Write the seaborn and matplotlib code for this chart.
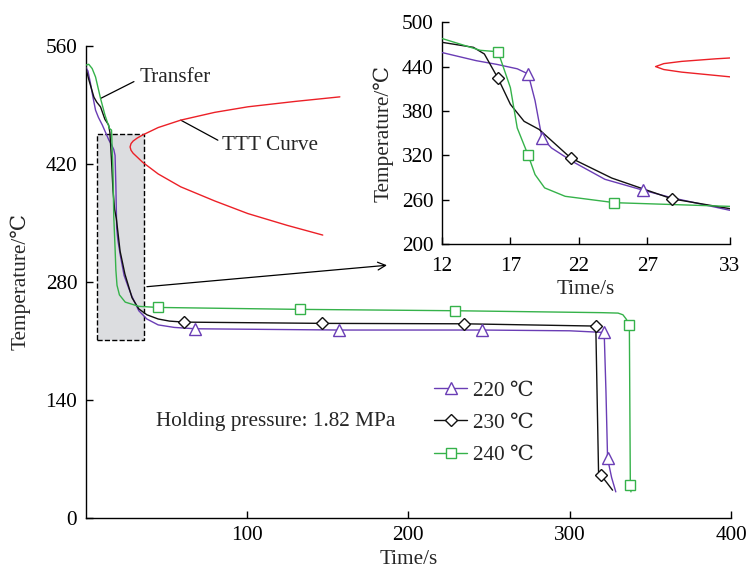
import numpy as np
import pandas as pd
import matplotlib
matplotlib.use("Agg")
import matplotlib.pyplot as plt
import seaborn as sns
from matplotlib.patches import Rectangle
from matplotlib.lines import Line2D

# --- DATA ---
t_220 = [0, 1.5, 3.1, 4.5, 6.2, 8, 10.4, 12, 14.5, 16, 17.5, 18.3, 18.8, 19.3, 20, 21.5, 23.9,
         26.7, 28.8, 33, 38, 45, 55, 68, 157, 245.7, 300, 321.4, 322.5, 323.5, 326, 328.6]
T_220 = [535, 530, 515, 500, 483.6, 475, 466, 459, 448, 443, 437, 430, 394, 344, 330, 312, 287.6,
         272.8, 262.6, 245.8, 236, 229, 226, 224.4, 222.9, 222.9, 222, 220, 150, 70.7, 48, 31]

t_230 = [0, 2, 5.2, 7, 9.3, 12, 14.3, 15.1, 16.1, 17, 18, 19.1, 21.4, 24.4, 28.8, 33, 38, 45,
         52, 60.8, 146.6, 234.7, 316.2, 317.9, 319.3, 323, 326.6]
T_230 = [535, 520, 499, 493, 487.5, 472.8, 466, 457, 424, 389, 366, 355, 316.5, 289.3, 261.2,
         248, 241, 236, 233.5, 232.3, 230.8, 230.3, 227.6, 55, 51, 42, 33]

t_240 = [0, 2, 4.1, 6.2, 9.3, 12, 14.8, 16.1, 17, 17.5, 18.3, 18.8, 19.5, 21, 24.6, 33, 44.6,
         132.7, 228.7, 320, 330, 333, 335, 337, 337.6, 338]
T_240 = [537, 538, 533, 523, 497.5, 478, 462, 460, 411.5, 357, 320, 294, 276, 264.6, 256, 251,
         249.7, 247.4, 245.8, 243.5, 243, 241, 236, 228.8, 39, 31]

# marker positions, main plot
mk_main_t = {'220': [68, 157, 245.7, 321.4, 323.5],
             '230': [60.8, 146.6, 234.7, 316.2, 319.3],
             '240': [44.6, 132.7, 228.7, 337, 337.6]}
mk_main_T = {'220': [224.4, 222.9, 222.9, 220, 70.7],
             '230': [232.3, 230.8, 230.3, 227.6, 51],
             '240': [249.7, 247.4, 245.8, 228.8, 39]}
# marker positions, zoomed inset
mk_ins_t = {'220': [18.3, 19.3, 26.7], '230': [16.1, 21.4, 28.8], '240': [16.1, 18.3, 24.6]}
mk_ins_T = {'220': [430, 344, 272.8], '230': [424, 316.5, 261.2], '240': [460, 320, 256]}

# TTT curve (upper branch -> nose -> lower branch)
t_ttt = [157.6, 130, 100.6, 80, 59, 45, 35.2, 32, 29.5, 28.2, 27.6, 28.2, 29.5, 32, 35.3, 45,
         59, 80, 100.6, 125, 147]
T_ttt = [499.4, 494, 487.6, 481, 471.8, 463, 454, 450.5, 447, 444, 440, 436, 432.5, 428, 422,
         408, 392.7, 376, 361, 347, 335.5]

labels = ['220 ℃', '230 ℃', '240 ℃']
keys = ['220', '230', '240']
colors = {'220': '#6a3db5', '230': '#111111', '240': '#35b24a'}
markers = {'220': '^', '230': 'D', '240': 's'}
msizes = {'220': 8, '230': 6, '240': 7}
RED = '#ec2027'

df = pd.concat([
    pd.DataFrame({'t': t_220, 'T': T_220, 'set': '220'}),
    pd.DataFrame({'t': t_230, 'T': T_230, 'set': '230'}),
    pd.DataFrame({'t': t_240, 'T': T_240, 'set': '240'}),
])

# --- THEME ---
sns.set_theme(style='ticks')
plt.rcParams['font.family'] = ['Liberation Serif', 'DejaVu Serif', 'Noto Sans CJK SC']
FS = 15.3

fig = plt.figure(figsize=(7.49, 5.69), dpi=100)
ax = fig.add_axes([0.1142, 0.0896, 0.8618, 0.830])
axi = fig.add_axes([0.590, 0.571, 0.384, 0.390])


def draw_curves(a, mk_t, mk_T):
    for k in keys:
        sub = df[df['set'] == k]
        sns.lineplot(data=sub, x='t', y='T', sort=False, estimator=None, color=colors[k],
                     lw=1.0, ax=a, legend=False, zorder=3)
        a.plot(mk_t[k], mk_T[k], ls='none', marker=markers[k], ms=msizes[k], mfc='white',
               mec=colors[k], mew=1.0, zorder=4)
    sns.lineplot(x=t_ttt, y=T_ttt, sort=False, estimator=None, color=RED, lw=1.0, ax=a,
                 zorder=3)


for a in (ax, axi):
    for s in ('top', 'right'):
        a.spines[s].set_visible(False)
    for s in ('left', 'bottom'):
        a.spines[s].set_color('black')
        a.spines[s].set_linewidth(1.0)
    a.tick_params(direction='in', length=5, width=1.0, labelsize=FS, pad=6, colors='black')
    a.set_facecolor('none')

# --- main plot ---
ax.add_patch(Rectangle((6.8, 211), 29.5, 243.8, facecolor='#dcdde0', edgecolor='black',
                       ls='--', lw=1.0, zorder=1))
draw_curves(ax, mk_main_t, mk_main_T)
ax.set_xlim(0, 400)
ax.set_ylim(0, 560)
ax.set_xticks([100, 200, 300, 400])
ax.set_yticks([0, 140, 280, 420, 560])
ax.set_xlabel('Time/s', fontsize=FS, labelpad=3)
ax.set_ylabel('Temperature/℃', fontsize=FS, labelpad=11)

ax.plot([9.3, 30], [497.5, 517.5], color='black', lw=0.9)
ax.text(33.2, 522.6, 'Transfer', fontsize=FS, va='center', ha='left')
ax.plot([59, 82], [471.8, 448], color='black', lw=0.9)
ax.text(84.5, 442, 'TTT Curve', fontsize=FS, va='center', ha='left')
ax.text(43.5, 114, 'Holding pressure: 1.82 MPa', fontsize=FS, va='center', ha='left')
ax.annotate('', xy=(188.5, 300), xytext=(36.3, 274),
            arrowprops=dict(arrowstyle='->', color='black', lw=0.9, mutation_scale=14))

handles = [Line2D([], [], color=colors[k], lw=1.0, marker=markers[k], ms=msizes[k],
                  mfc='white', mec=colors[k], mew=1.0) for k in keys]
ax.legend(handles, labels, frameon=False, loc='upper left', bbox_to_anchor=(0.540, 0.2905),
          fontsize=FS, handlelength=1.55, handletextpad=0.3, labelspacing=0.58,
          borderpad=0, borderaxespad=0)

# --- zoomed inset ---
draw_curves(axi, mk_ins_t, mk_ins_T)
axi.set_xlim(12, 33)
axi.set_ylim(200, 500)
axi.set_xticks([12, 17, 22, 27, 33])
axi.set_yticks([200, 260, 320, 380, 440, 500])
axi.tick_params(axis='x', pad=9)
axi.set_xlabel('Time/s', fontsize=FS, labelpad=3)
axi.set_ylabel('Temperature/℃', fontsize=FS, labelpad=6)

fig.savefig('out.png', dpi=100)
